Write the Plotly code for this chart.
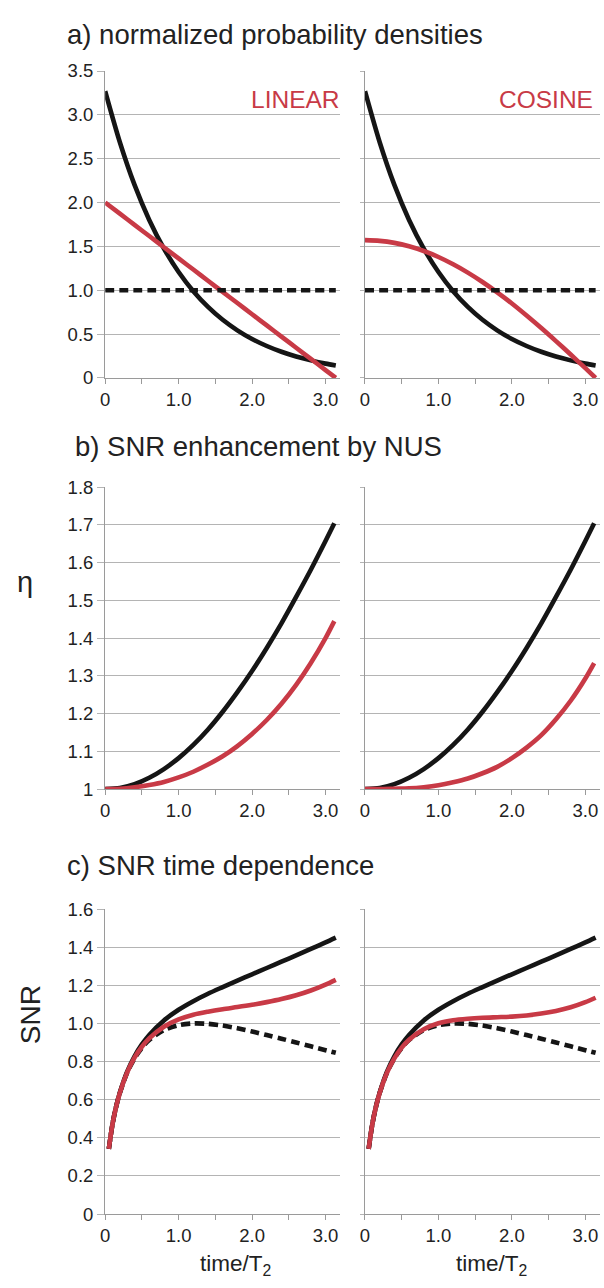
import plotly.graph_objects as go
from plotly.subplots import make_subplots

# ---------------- data ----------------
# a) normalized sampling densities vs time/T2
t_density = [0.0, 0.2, 0.4, 0.6, 0.8, 1.0, 1.2, 1.4, 1.6, 1.8, 2.0, 2.2, 2.4, 2.6, 2.8, 3.0, 3.14]
dens_exp = [3.270, 2.688, 2.201, 1.802, 1.475, 1.208, 0.989, 0.810, 0.663, 0.543, 0.444, 0.364, 0.298, 0.244, 0.200, 0.163, 0.142]
dens_uniform = [1.0, 1.0, 1.0, 1.0, 1.0, 1.0, 1.0, 1.0, 1.0, 1.0, 1.0, 1.0, 1.0, 1.0, 1.0, 1.0, 1.0]
dens_linear = [2.000, 1.873, 1.745, 1.618, 1.490, 1.363, 1.236, 1.108, 0.981, 0.854, 0.726, 0.599, 0.471, 0.344, 0.217, 0.089, 0.000]
dens_cosine = [1.571, 1.563, 1.540, 1.501, 1.447, 1.379, 1.296, 1.201, 1.094, 0.976, 0.849, 0.712, 0.569, 0.420, 0.267, 0.111, 0.000]

# b) SNR enhancement factor eta vs maximum evolution time
t_eta = [0.0, 0.2, 0.4, 0.6, 0.8, 1.0, 1.2, 1.4, 1.6, 1.8, 2.0, 2.2, 2.4, 2.6, 2.8, 3.0, 3.12]
eta_exp = [1.000, 1.003, 1.013, 1.030, 1.053, 1.082, 1.117, 1.158, 1.205, 1.257, 1.313, 1.374, 1.439, 1.509, 1.581, 1.657, 1.704]
eta_linear = [1.000, 1.001, 1.005, 1.011, 1.019, 1.031, 1.046, 1.065, 1.087, 1.114, 1.146, 1.183, 1.226, 1.276, 1.334, 1.400, 1.445]
eta_cosine = [1.000, 1.000, 1.001, 1.002, 1.005, 1.010, 1.018, 1.028, 1.042, 1.059, 1.082, 1.110, 1.143, 1.185, 1.234, 1.293, 1.334]

# c) SNR vs acquisition time
t_snr = [0.05, 0.1, 0.15, 0.2, 0.3, 0.4, 0.5, 0.6, 0.8, 1.0, 1.2, 1.4, 1.6, 1.8, 2.0, 2.2, 2.4, 2.6, 2.8, 3.0, 3.14]
snr_uniform = [0.342, 0.472, 0.564, 0.635, 0.742, 0.817, 0.872, 0.913, 0.965, 0.991, 1.000, 0.998, 0.989, 0.975, 0.958, 0.939, 0.920, 0.900, 0.880, 0.860, 0.846]
snr_exp = [0.342, 0.472, 0.565, 0.637, 0.747, 0.828, 0.890, 0.940, 1.016, 1.072, 1.117, 1.156, 1.191, 1.225, 1.258, 1.291, 1.324, 1.357, 1.391, 1.425, 1.450]
snr_linear = [0.342, 0.472, 0.564, 0.636, 0.743, 0.821, 0.878, 0.922, 0.983, 1.021, 1.046, 1.062, 1.075, 1.086, 1.098, 1.112, 1.128, 1.148, 1.173, 1.204, 1.229]
snr_cosine = [0.342, 0.472, 0.564, 0.635, 0.742, 0.817, 0.873, 0.915, 0.970, 1.001, 1.017, 1.025, 1.030, 1.033, 1.036, 1.042, 1.052, 1.066, 1.085, 1.112, 1.135]

x_ticks = [0, 1.0, 2.0, 3.0]
x_ticktext = ["0", "1.0", "2.0", "3.0"]
x_minor = [0.5, 1.5, 2.5]
ya_ticks = [0, 0.5, 1.0, 1.5, 2.0, 2.5, 3.0, 3.5]
ya_ticktext = ["0", "0.5", "1.0", "1.5", "2.0", "2.5", "3.0", "3.5"]
yb_ticks = [1.0, 1.1, 1.2, 1.3, 1.4, 1.5, 1.6, 1.7, 1.8]
yb_ticktext = ["1", "1.1", "1.2", "1.3", "1.4", "1.5", "1.6", "1.7", "1.8"]
yc_ticks = [0, 0.2, 0.4, 0.6, 0.8, 1.0, 1.2, 1.4, 1.6]
yc_ticktext = ["0", "0.2", "0.4", "0.6", "0.8", "1.0", "1.2", "1.4", "1.6"]

# ---------------- style ----------------
W, H = 604, 1288
FONT = "Liberation Sans, Arial, sans-serif"
BLACK = "#151515"
RED = "#c83a46"
GRID = "#b4b4b4"
AXIS = "#9a9a9a"
TXT = "#222222"
LW = 4.6
DASH = "9px,5px"

fig = make_subplots(rows=3, cols=2)


def line(x, y, color, row, col, dash="solid"):
    fig.add_trace(
        go.Scatter(x=x, y=y, mode="lines", showlegend=False, hoverinfo="skip",
                   line=dict(color=color, width=LW, dash=dash, shape="spline", smoothing=0.8)),
        row=row, col=col)


# a) densities
line(t_density, dens_exp, BLACK, 1, 1)
line(t_density, dens_linear, RED, 1, 1)
line(t_density, dens_uniform, BLACK, 1, 1, DASH)
line(t_density, dens_exp, BLACK, 1, 2)
line(t_density, dens_cosine, RED, 1, 2)
line(t_density, dens_uniform, BLACK, 1, 2, DASH)

# b) eta
line(t_eta, eta_exp, BLACK, 2, 1)
line(t_eta, eta_linear, RED, 2, 1)
line(t_eta, eta_exp, BLACK, 2, 2)
line(t_eta, eta_cosine, RED, 2, 2)

# c) SNR
line(t_snr, snr_uniform, BLACK, 3, 1, DASH)
line(t_snr, snr_exp, BLACK, 3, 1)
line(t_snr, snr_linear, RED, 3, 1)
line(t_snr, snr_uniform, BLACK, 3, 2, DASH)
line(t_snr, snr_exp, BLACK, 3, 2)
line(t_snr, snr_cosine, RED, 3, 2)


def px_x(p):
    # pixel column -> paper fraction
    return p / W


def px_y(p):
    return 1 - p / H


col_dom = [(px_x(101), px_x(338)), (px_x(363), px_x(600))]
row_dom = [(px_y(373), px_y(61)), (px_y(791), px_y(484)), (px_y(1223), px_y(913))]
y_ranges = [[0, 3.5], [1.0, 1.8], [0, 1.6]]
y_tickvals = [ya_ticks, yb_ticks, yc_ticks]
y_ticktexts = [ya_ticktext, yb_ticktext, yc_ticktext]

for r in range(3):
    for c in range(2):
        idx = r * 2 + c + 1
        xname = "xaxis" if idx == 1 else f"xaxis{idx}"
        yname = "yaxis" if idx == 1 else f"yaxis{idx}"
        fig.layout[xname].update(
            domain=list(col_dom[c]), range=[0, 3.2], showgrid=False, zeroline=False,
            showline=True, linecolor=AXIS, linewidth=1.3,
            tickmode="array", tickvals=x_ticks, ticktext=x_ticktext,
            ticks="outside", ticklen=5, tickwidth=1.3, tickcolor=AXIS,
            minor=dict(tickmode="array", tickvals=x_minor, ticks="outside", ticklen=5,
                       tickwidth=1.3, tickcolor=AXIS, showgrid=False),
            tickfont=dict(family=FONT, size=18.5, color=TXT),
        )
        fig.layout[yname].update(
            domain=list(row_dom[r]), range=y_ranges[r], showgrid=True, gridcolor=GRID,
            gridwidth=1.3, zeroline=False, showline=True, linecolor=AXIS, linewidth=1.3,
            tickmode="array", tickvals=y_tickvals[r], ticktext=y_ticktexts[r],
            ticks="outside", ticklen=7 if c == 0 else 4, tickwidth=1.3, tickcolor=GRID,
            showticklabels=(c == 0),
            tickfont=dict(family=FONT, size=18.5, color=TXT),
        )

annotations = [
    dict(text="a) normalized probability densities", x=px_x(60), y=px_y(24), xanchor="left",
         yanchor="middle", font=dict(family=FONT, size=27.5, color=TXT)),
    dict(text="b) SNR enhancement by NUS", x=px_x(69), y=px_y(443), xanchor="left",
         yanchor="middle", font=dict(family=FONT, size=27.5, color=TXT)),
    dict(text="c) SNR time dependence", x=px_x(60), y=px_y(869), xanchor="left",
         yanchor="middle", font=dict(family=FONT, size=27.5, color=TXT)),
    dict(text="LINEAR", x=px_x(340), y=px_y(90), xanchor="right", yanchor="middle",
         font=dict(family=FONT, size=24.5, color=RED)),
    dict(text="COSINE", x=px_x(595), y=px_y(90), xanchor="right", yanchor="middle",
         font=dict(family=FONT, size=24.5, color=RED)),
    dict(text="η", x=px_x(20), y=px_y(580), xanchor="center", yanchor="middle",
         font=dict(family=FONT, size=29, color=TXT)),
    dict(text="SNR", x=px_x(26), y=px_y(1020), xanchor="center", yanchor="middle",
         textangle=-90, font=dict(family=FONT, size=28, color=TXT)),
    dict(text="time/T<sub>2</sub>", x=px_x(232), y=px_y(1275), xanchor="center",
         yanchor="middle", font=dict(family=FONT, size=22.5, color=TXT)),
    dict(text="time/T<sub>2</sub>", x=px_x(491), y=px_y(1275), xanchor="center",
         yanchor="middle", font=dict(family=FONT, size=22.5, color=TXT)),
]
for a in annotations:
    a.update(xref="paper", yref="paper", showarrow=False)

fig.update_layout(
    width=W, height=H, margin=dict(l=0, r=0, t=0, b=0),
    paper_bgcolor="white", plot_bgcolor="white",
    annotations=annotations, showlegend=False,
)

fig.write_html("out.html", config={"displayModeBar": False})
